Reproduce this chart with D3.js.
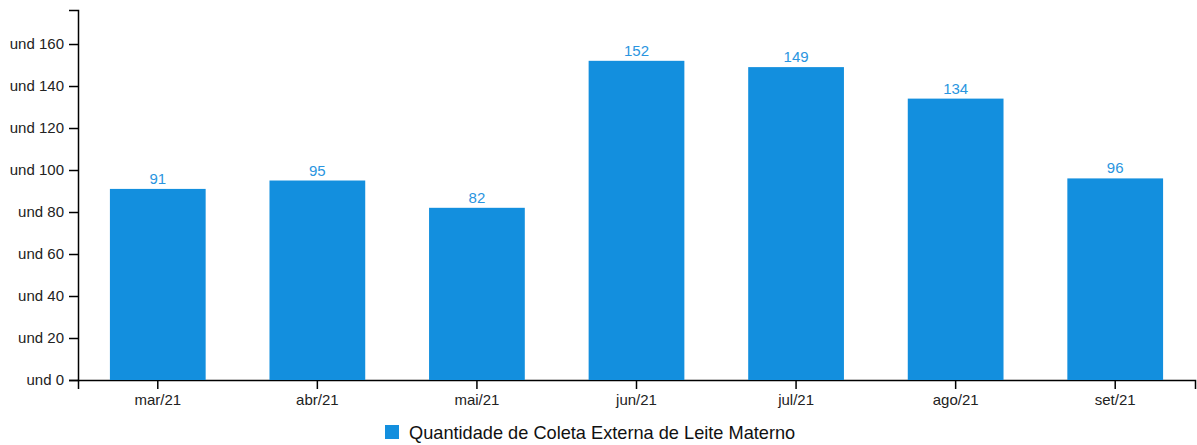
<!DOCTYPE html>
<html>
<head>
<meta charset="utf-8">
<script src="https://cdn.jsdelivr.net/npm/d3@7"></script>
<style>
    body { margin: 0; background: #fff; }
    svg { font-family: "Liberation Sans", Arial, sans-serif; }
    .axis text { font-size: 15px; fill: #222; font-family: "Liberation Sans", Arial, sans-serif; }
    .axis path, .axis line { stroke: #000; stroke-width: 1.5; }
</style>
</head>
<body>
<div id="chart"></div>
<script>
const months = ['mar/21', 'abr/21', 'mai/21', 'jun/21', 'jul/21', 'ago/21', 'set/21'];
const coletas = [91, 95, 82, 152, 149, 134, 96];
const yTicks = [0, 20, 40, 60, 80, 100, 120, 140, 160];
const legendLabel = 'Quantidade de Coleta Externa de Leite Materno';

const width = 1197, height = 445;
const padding = {top: 10, right: 2, bottom: 65, left: 78};
const innerW = width - padding.left - padding.right,
      innerH = height - padding.top - padding.bottom;
const barColor = '#138fde';

const svg = d3.select('#chart')
    .append('svg')
    .attr('width', width)
    .attr('height', height);

const g = svg.append('g')
    .attr('transform', `translate(${padding.left}, ${padding.top})`);

const xScale = d3.scaleBand()
    .domain(months)
    .range([0, innerW])
    .paddingInner(0.4)
    .paddingOuter(0.2);

const yScale = d3.scaleLinear()
    .domain([0, 176.2])
    .range([innerH, 0]);

g.append('g')
    .attr('class', 'axis axis-x')
    .attr('transform', `translate(0, ${innerH})`)
    .call(d3.axisBottom(xScale).tickSizeOuter(9).tickSizeInner(9).tickPadding(5));

g.append('g')
    .attr('class', 'axis axis-y')
    .call(d3.axisLeft(yScale).tickValues(yTicks).tickSizeOuter(9).tickSizeInner(9).tickPadding(5)
        .tickFormat(d => 'und ' + d));

g.append('g')
    .selectAll('rect')
    .data(coletas)
    .enter()
    .append('rect')
    .attr('x', (d, i) => xScale(months[i]))
    .attr('y', d => yScale(d))
    .attr('width', xScale.bandwidth())
    .attr('height', d => innerH - yScale(d))
    .attr('fill', barColor);

g.append('g')
    .selectAll('text')
    .data(coletas)
    .enter()
    .append('text')
    .attr('x', (d, i) => xScale(months[i]) + xScale.bandwidth() / 2)
    .attr('y', d => yScale(d) - 5)
    .attr('text-anchor', 'middle')
    .attr('font-size', 15)
    .attr('fill', '#2a95e0')
    .text(d => d);

// legenda
const legend = svg.append('g')
    .attr('transform', `translate(385, 425)`);
legend.append('rect')
    .attr('width', 14)
    .attr('height', 14)
    .attr('fill', barColor);
legend.append('text')
    .attr('x', 24)
    .attr('y', 14)
    .attr('font-size', 18.2)
    .attr('fill', '#111')
    .text(legendLabel);
</script>
</body>
</html>
